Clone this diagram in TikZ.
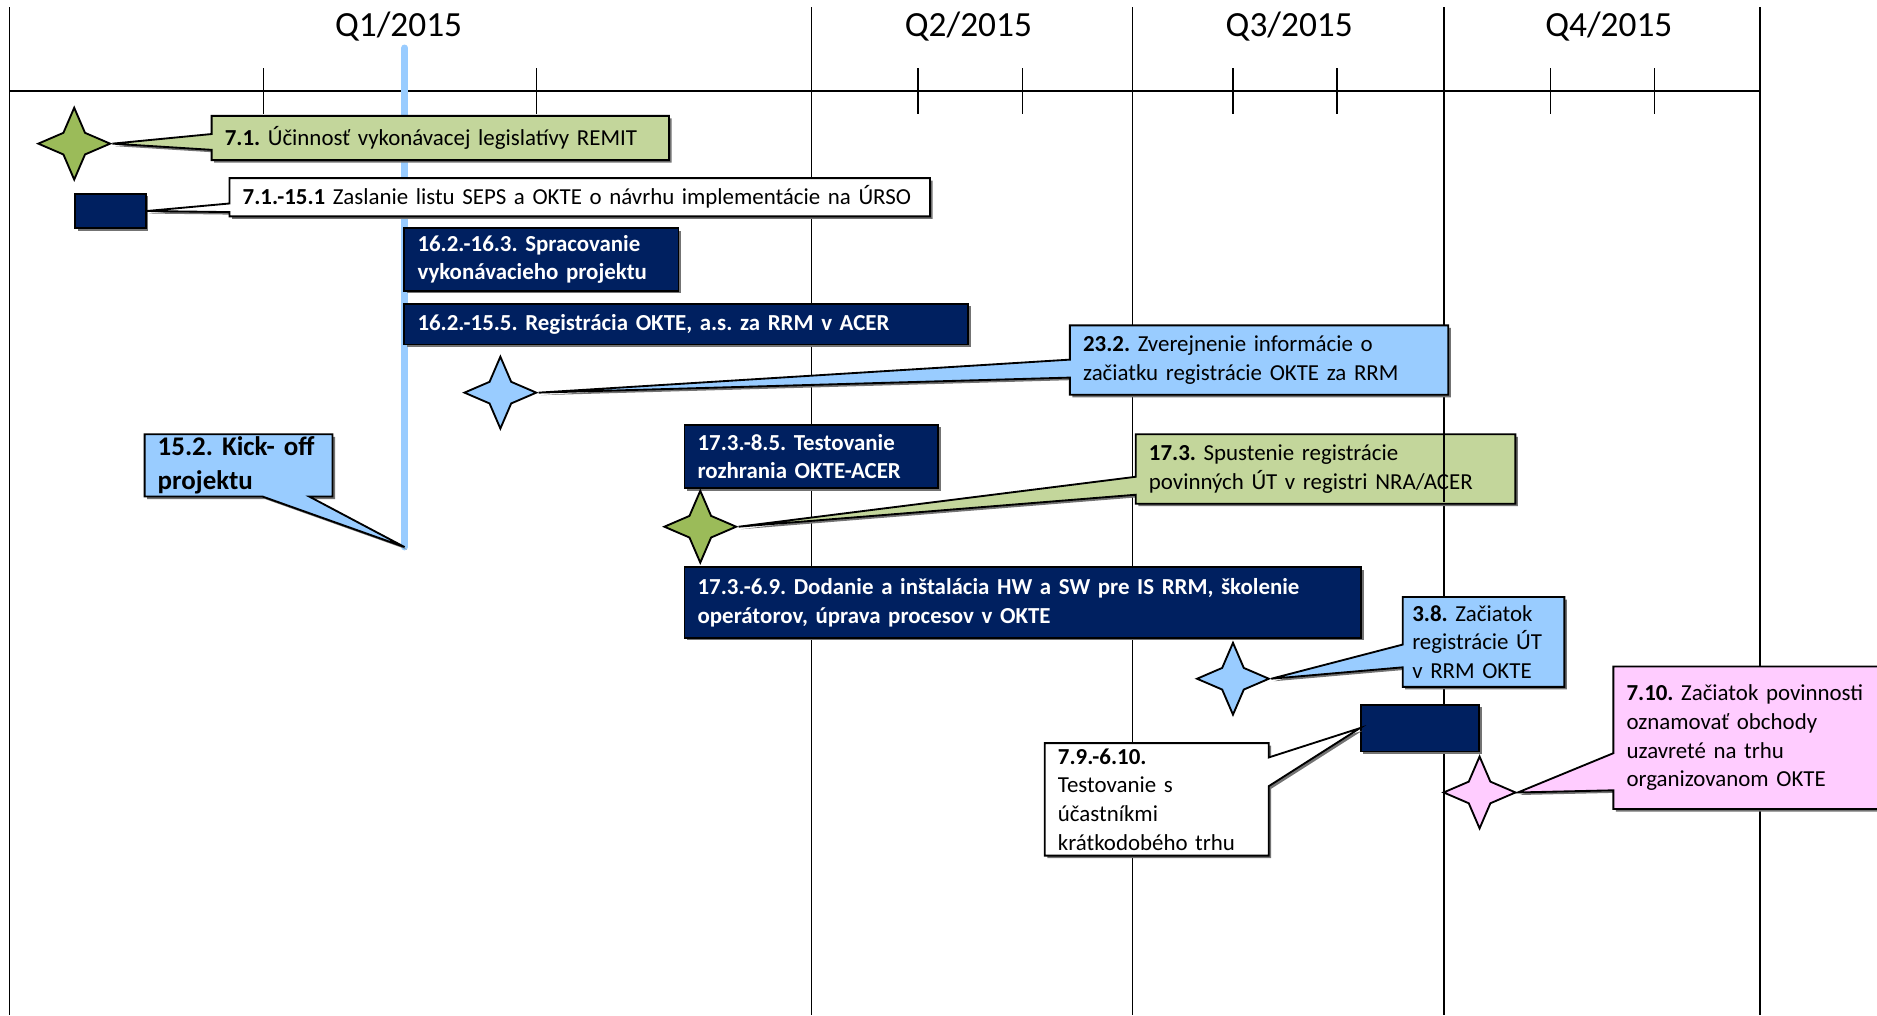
\documentclass[tikz,border=0pt]{standalone}
\usepackage{fontspec}
\setmainfont{Carlito}
\usepackage{tikz}
\usetikzlibrary{shapes.geometric, shapes.callouts, shadows}
\frenchspacing

\definecolor{okteNavy}{RGB}{0,32,96}
\definecolor{starGreen}{RGB}{155,187,89}
\definecolor{boxGreen}{RGB}{195,214,155}
\definecolor{skyBlue}{RGB}{153,204,255}
\definecolor{pinkBox}{RGB}{255,204,255}

\tikzset{
    boxshadow/.style={drop shadow={shadow xshift=1.5pt, shadow yshift=-1.5pt, fill=black!55, opacity=1}},
    milestone/.style={star, star points=4, star point ratio=2.35, minimum size=1.5cm,
        inner sep=0pt, draw=black, line width=1.1pt},
    taskbox/.style={draw=black, fill=okteNavy, text=white, line width=1.1pt, anchor=north west,
        align=left, inner xsep=0.275cm, inner ysep=0pt, boxshadow,
        font=\fontsize{13.6}{17}\selectfont\bfseries},
    callbox/.style={rectangle callout, draw=black, line width=1.1pt, anchor=north west,
        align=left, inner xsep=0.275cm, inner ysep=0pt, boxshadow,
        font=\fontsize{13.6}{17}\selectfont},
    quarter/.style={font=\fontsize{21}{24}\selectfont}
}

\begin{document}
\begin{tikzpicture}[x=0.025cm, y=-0.025cm]
    \clip (0,0) rectangle (1568,848);

    % time axis
    \foreach \x in {8,678,946,1206,1470}
        \draw[line width=1pt] (\x,6) -- (\x,848);
    \draw[line width=1.5pt] (8,76) -- (1470,76);
    \foreach \x in {220,448,767,854,1030,1117,1295,1382}
        \draw[line width=0.8pt] (\x,57) -- (\x,95);
    \node[quarter] (q1) at (333,22) {Q1/2015};
    \node[quarter] (q2) at (809,22) {Q2/2015};
    \node[quarter] (q3) at (1077,22) {Q3/2015};
    \node[quarter] (q4) at (1344,22) {Q4/2015};

    % today line
    \coordinate (kickoff) at (338,457);
    \draw[skyBlue, line width=0.14cm, line cap=round] (338,40) -- (kickoff);

    % milestones and bars
    \node[milestone, fill=starGreen] (remit) at (62,120) {};
    \node[draw=black, fill=okteNavy, line width=1.1pt, minimum width=1.475cm, minimum height=0.725cm,
        anchor=north west, boxshadow] (ursobar) at (62,161) {};
    \node[taskbox, text width=5.175cm, minimum height=1.3cm] (spracovanie) at (337,190)
        {16.2.-16.3. Spracovanie\\vykonávacieho projektu};
    \node[taskbox, text width=11.225cm, minimum height=0.85cm] (registracia) at (337,253)
        {16.2.-15.5. Registrácia OKTE, a.s. za RRM v ACER};
    \node[milestone, fill=skyBlue] (zverejnenie) at (418,328) {};
    \node[taskbox, text width=4.75cm, minimum height=1.325cm] (rozhranie) at (571,354)
        {17.3.-8.5. Testovanie\\rozhrania OKTE-ACER};
    \node[milestone, fill=starGreen] (spustenie) at (585,440) {};
    \node[taskbox, text width=13.575cm, minimum height=1.475cm] (dodanie) at (571,473)
        {17.3.-6.9. Dodanie a inštalácia HW a SW pre IS RRM, školenie\\operátorov, úprava procesov v OKTE};
    \node[milestone, fill=skyBlue] (zaciatokut) at (1030,567) {};
    \node[draw=black, fill=okteNavy, line width=1.1pt, minimum width=2.475cm, minimum height=0.975cm,
        anchor=north west, boxshadow] (testbar) at (1136,588) {};
    \node[milestone, fill=pinkBox] (oznamovanie) at (1236,662) {};

    % callouts
    \node[callbox, fill=boxGreen, text width=9cm, minimum height=0.925cm,
        callout absolute pointer={(remit.east)}, callout pointer width=0.33cm] (remitnote) at (176,96)
        {\textbf{7.1.} Účinnosť vykonávacej legislatívy REMIT};
    \node[callbox, fill=white, text width=14.075cm, minimum height=0.8cm,
        callout absolute pointer={(ursobar.east)}, callout pointer width=0.18cm] (ursonote) at (191,148)
        {\textbf{7.1.-15.1} Zaslanie listu SEPS a OKTE o návrhu implementácie na ÚRSO};
    \node[callbox, fill=skyBlue, text width=7.35cm, minimum height=1.45cm,
        callout absolute pointer={(zverejnenie.east)}, callout pointer width=0.375cm] (zverejnenienote) at (893,271)
        {\textbf{23.2.} Zverejnenie informácie o\\začiatku registrácie OKTE za RRM};
    \node[callbox, fill=skyBlue, text width=3.375cm, minimum height=1.3cm,
        font=\fontsize{16}{20}\selectfont\bfseries,
        callout absolute pointer={(kickoff)}, callout pointer width=0.975cm] (kickoffnote) at (120,362)
        {15.2. Kick- off\\projektu};
    \node[callbox, fill=boxGreen, text width=7.375cm, minimum height=1.45cm,
        callout absolute pointer={(spustenie.east)}, callout pointer width=0.375cm] (spustenienote) at (948,362)
        {\textbf{17.3.} Spustenie registrácie\\povinných ÚT v registri NRA/ACER};
    \draw[line width=1pt] (1206,363) -- (1206,419);
    \node[callbox, fill=skyBlue, text width=2.975cm, inner xsep=0.2cm, minimum height=1.875cm,
        callout absolute pointer={(zaciatokut.east)}, callout pointer width=0.475cm] (zaciatokutnote) at (1171,498)
        {\textbf{3.8.} Začiatok\\registrácie ÚT\\v RRM OKTE};
    \node[callbox, fill=white, text width=4.125cm, minimum height=2.35cm,
        callout absolute pointer={(testbar.west)}, callout pointer width=0.6cm] (testnote) at (872,620)
        {\textbf{7.9.-6.10.}\\Testovanie s\\účastníkmi\\krátkodobého trhu};
    \node[callbox, fill=pinkBox, text width=6cm, minimum height=2.975cm,
        callout absolute pointer={(oznamovanie.east)}, callout pointer width=0.775cm] (oznamovanienote) at (1347,556)
        {\textbf{7.10.} Začiatok povinnosti\\oznamovať obchody\\uzavreté na trhu\\organizovanom OKTE};
\end{tikzpicture}
\end{document}
